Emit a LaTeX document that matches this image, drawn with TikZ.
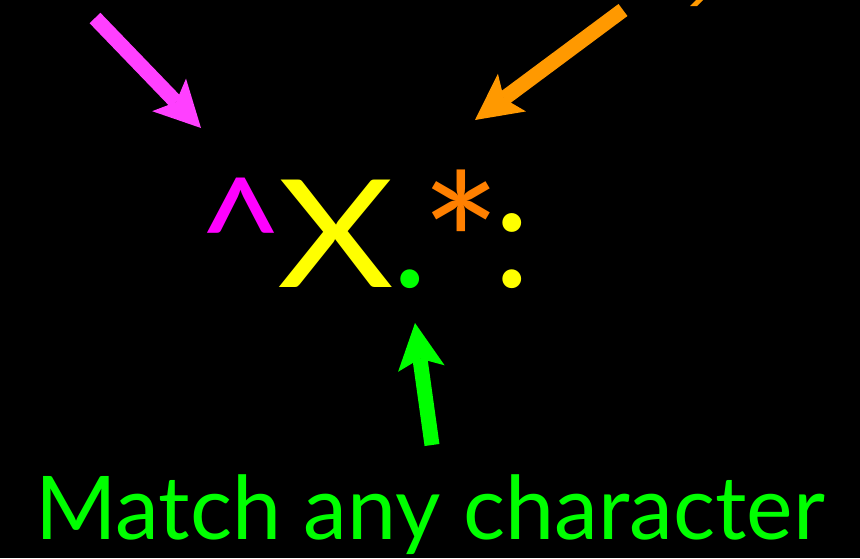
\documentclass[tikz,border=0pt]{standalone}
\usepackage{fontspec}
\setmainfont{Lato}
\usetikzlibrary{arrows.meta}

\definecolor{hatpink}{RGB}{255,0,255}
\definecolor{arrowpink}{RGB}{255,64,255}
\definecolor{staryellow}{RGB}{255,255,0}
\definecolor{starorange}{RGB}{255,128,0}
\definecolor{arroworange}{RGB}{255,153,0}
\definecolor{dotgreen}{RGB}{0,255,0}

\begin{document}
\begin{tikzpicture}[
  x=1pt, y=-1pt,
  glyph/.style={inner sep=0pt, font=\fontsize{150}{150}\selectfont},
  caption/.style={inner sep=0pt, text=dotgreen, font=\fontsize{88}{88}\selectfont},
  pointer/.style={line width=15pt, -{Stealth[length=46pt, width=47pt, inset=10pt, line width=0pt]}}
]
  % Background
  \fill[black] (0,0) rectangle (860,558);
  \useasboundingbox (0,0) rectangle (860,558);

  % Pattern
  \node[glyph, text=hatpink, anchor=north] (hat) at (241,178) {\^{}};
  \node[glyph, text=staryellow, anchor=base, xscale=1.2] (x) at (336,287) {X};
  \node[glyph, text=dotgreen, anchor=base] (dot) at (410,287) {.};
  \node[glyph, text=starorange, anchor=base, font=\fontsize{192}{192}\selectfont] (star) at (461,314) {\makebox[46pt]{*}};
  \node[glyph, text=staryellow, anchor=base] (colon) at (512,287) {\makebox[22pt]{:}};

  % Caption
  \node[caption, anchor=base] (anychar) at (430,539) {Match any character};

  % Arrow ends
  \coordinate (hattail) at (95,18);
  \coordinate (hattip) at (201,128);
  \coordinate (startail) at (623,10);
  \coordinate (startip) at (475,120);
  \coordinate (dottail) at (432,445);
  \coordinate (dottip) at (415,323);

  % Arrows
  \draw[pointer, arrowpink] (hattail) -- (hattip);
  \draw[pointer, arroworange] (startail) -- (startip);
  \draw[pointer, dotgreen] (dottail) -- (dottip);

  % Cut-off text at top edge
  \fill[arroworange] (696,0) -- (703,0) -- (697,6) -- (690,6) -- cycle;
\end{tikzpicture}
\end{document}
